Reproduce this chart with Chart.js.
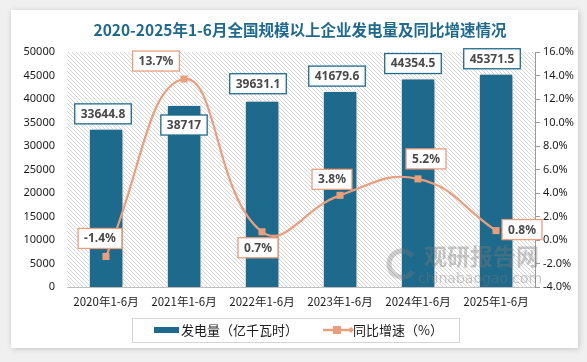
<!DOCTYPE html>
<html>
<head>
<meta charset="utf-8">
<script src="https://cdn.jsdelivr.net/npm/chart.js@4.4.1/dist/chart.umd.min.js"></script>
<style>
html,body{margin:0;padding:0;background:#f0f0f0;}
#wrap{width:587px;height:362px;position:relative;}
</style>
</head>
<body>
<div id="wrap"><canvas id="c" width="587" height="362"></canvas></div>
<script>
const categories = ["2020年1-6月","2021年1-6月","2022年1-6月","2023年1-6月","2024年1-6月","2025年1-6月"];
const generation = [33644.8, 38717, 39631.1, 41679.6, 44354.5, 45371.5];
const growth = [-1.4, 13.7, 0.7, 3.8, 5.2, 0.8];
const leftTicks = [0,5000,10000,15000,20000,25000,30000,35000,40000,45000,50000];
const rightTicks = [-4,-2,0,2,4,6,8,10,12,14,16];
const titleText = "2020-2025年1-6月全国规模以上企业发电量及同比增速情况";
const barLabel = "发电量（亿千瓦时）";
const lineLabel = "同比增速（%）";

const BAR_COLOR = "#1d6a8c";
const LINE_COLOR = "#e99e7d";
const LABEL_COLOR = "#4a4a4a";

// label placement offsets (pixels, box centre relative to mark)
const barLabelOffset = [[-3,-15],[0,20],[-4,-17],[-3,-15],[-5,-15],[-4,-15]];
const lineLabelOffset = [[-6,-18],[-28,-18],[-4,16],[-8,-16],[8,-20],[26,-1]];

const bgPlugin = {
  id: 'bg',
  beforeDraw(chart) {
    const ctx = chart.ctx;
    ctx.save();
    ctx.fillStyle = '#f0f0f0';
    ctx.fillRect(0,0,chart.width,chart.height);
    ctx.shadowColor = 'rgba(0,0,0,0.18)';
    ctx.shadowBlur = 6;
    ctx.shadowOffsetX = 1;
    ctx.shadowOffsetY = 1;
    ctx.fillStyle = '#ffffff';
    ctx.fillRect(11,10,567,338);
    ctx.restore();
    // hatch pattern in plot area
    const a = chart.chartArea;
    ctx.save();
    ctx.beginPath();
    ctx.rect(a.left, a.top, a.right-a.left, a.bottom-a.top);
    ctx.clip();
    ctx.strokeStyle = '#d6d6d6';
    ctx.lineWidth = 1;
    const h = a.bottom - a.top;
    for (let x = a.left - h; x < a.right + 10; x += 4) {
      ctx.beginPath();
      ctx.moveTo(x, a.top);
      ctx.lineTo(x + h, a.bottom);
      ctx.stroke();
    }
    ctx.restore();
    // title
    ctx.save();
    ctx.fillStyle = '#1f6a8c';
    ctx.font = 'bold 15.5px "Noto Sans CJK SC"';
    ctx.textAlign = 'center';
    ctx.textBaseline = 'middle';
    ctx.fillText(titleText, 300, 30);
    ctx.restore();
  },
  beforeDatasetDraw(chart, args) {
    if (args.index === 0) {
      const ctx = chart.ctx;
      ctx.save();
      ctx.shadowColor = 'rgba(0,0,0,0.35)';
      ctx.shadowBlur = 4;
      ctx.shadowOffsetX = 2;
      ctx.shadowOffsetY = 1;
    }
  },
  afterDatasetDraw(chart, args) {
    if (args.index === 0) {
      const ctx = chart.ctx;
      ctx.restore();
      // watermark over bars
      ctx.save();
      ctx.fillStyle = 'rgba(120,120,120,0.4)';
      ctx.font = 'bold 23px "Noto Sans CJK SC"';
      ctx.textBaseline = 'middle';
      ctx.fillText('观研报告网', 424, 256);
      ctx.font = '14px "DejaVu Sans"';
      ctx.fillText('chinabaogao.com', 418, 279);
      ctx.beginPath();
      ctx.lineWidth = 5;
      ctx.strokeStyle = 'rgba(120,120,120,0.35)';
      ctx.arc(402, 264, 13, 0.6, Math.PI*1.8);
      ctx.stroke();
      ctx.restore();
    }
  }
};

function drawBox(ctx, text, cx, cy, border) {
  ctx.font = 'bold 12px "Noto Sans"';
  const w = ctx.measureText(text).width + 12;
  const hgt = 20;
  ctx.fillStyle = '#ffffff';
  ctx.fillRect(cx - w/2, cy - hgt/2, w, hgt);
  ctx.strokeStyle = border;
  ctx.lineWidth = 1.3;
  ctx.strokeRect(cx - w/2, cy - hgt/2, w, hgt);
  ctx.fillStyle = LABEL_COLOR;
  ctx.textAlign = 'center';
  ctx.textBaseline = 'middle';
  ctx.fillText(text, cx, cy + 0.5);
}

const labelPlugin = {
  id: 'labels',
  afterDatasetsDraw(chart) {
    const ctx = chart.ctx;
    ctx.save();
    const barMeta = chart.getDatasetMeta(0);
    barMeta.data.forEach((el, i) => {
      const o = barLabelOffset[i];
      drawBox(ctx, String(generation[i]), el.x + o[0], el.y + o[1], BAR_COLOR);
    });
    const lineMeta = chart.getDatasetMeta(1);
    lineMeta.data.forEach((el, i) => {
      const o = lineLabelOffset[i];
      drawBox(ctx, growth[i].toFixed(1) + '%', el.x + o[0], el.y + o[1], LINE_COLOR);
    });
    ctx.restore();
    // legend
    ctx.save();
    ctx.strokeStyle = '#d4d4d4';
    ctx.lineWidth = 1;
    ctx.strokeRect(132.5, 318.5, 327, 24);
    ctx.fillStyle = BAR_COLOR;
    ctx.fillRect(154, 327, 25, 6);
    ctx.font = '13px "Noto Sans CJK SC"';
    ctx.fillStyle = '#1a1a1a';
    ctx.textBaseline = 'middle';
    ctx.textAlign = 'left';
    ctx.fillText(chart.data.datasets[0].label, 181, 330);
    ctx.strokeStyle = LINE_COLOR;
    ctx.lineWidth = 2.5;
    ctx.beginPath(); ctx.moveTo(323, 330); ctx.lineTo(351, 330); ctx.stroke();
    ctx.fillStyle = LINE_COLOR;
    ctx.fillRect(333, 326, 8, 8);
    ctx.beginPath(); ctx.moveTo(351,327); ctx.lineTo(354,330); ctx.lineTo(351,333); ctx.lineTo(348,330); ctx.closePath(); ctx.fill();
    ctx.fillStyle = '#1a1a1a';
    ctx.fillText(chart.data.datasets[1].label, 353, 330);
    ctx.restore();
  }
};

new Chart(document.getElementById('c'), {
  data: {
    labels: categories,
    datasets: [
      {
        type: 'bar',
        label: barLabel,
        data: generation,
        yAxisID: 'y',
        backgroundColor: BAR_COLOR,
        borderColor: '#ffffff',
        borderWidth: 1,
        barPercentage: 0.5,
        categoryPercentage: 0.88,
        order: 2
      },
      {
        type: 'line',
        label: lineLabel,
        data: growth,
        yAxisID: 'y1',
        borderColor: LINE_COLOR,
        backgroundColor: LINE_COLOR,
        borderWidth: 2.2,
        tension: 0.45,
        pointStyle: 'rect',
        pointRadius: 5,
        pointBorderWidth: 0,
        pointBackgroundColor: LINE_COLOR,
        order: 1
      }
    ]
  },
  options: {
    responsive: false,
    animation: false,
    devicePixelRatio: 1,
    layout: { padding: { top: 52, left: 0, right: 0, bottom: 0 } },
    plugins: { legend: { display: false }, tooltip: { enabled: false }, title: { display: false } },
    scales: {
      x: {
        grid: { display: false, drawTicks: false },
        border: { display: true, color: '#bfbfbf', width: 1 },
        ticks: { color: '#1a1a1a', font: { family: '"Noto Sans CJK SC"', size: 11.5 }, padding: 8, maxRotation: 0 },
        afterFit(s) { s.height = 75; }
      },
      y: {
        position: 'left',
        min: 0, max: 50000,
        afterBuildTicks(s) { s.ticks = leftTicks.map(v => ({ value: v })); },
        grid: { display: false, drawTicks: false },
        border: { display: false },
        ticks: { color: '#1a1a1a', font: { family: '"Noto Sans"', size: 11 }, padding: 12, callback: v => String(v) },
        afterFit(s) { s.width = 67; }
      },
      y1: {
        position: 'right',
        min: -4, max: 16,
        afterBuildTicks(s) { s.ticks = rightTicks.map(v => ({ value: v })); },
        grid: { drawOnChartArea: false, drawTicks: true, tickLength: 5, color: '#9a9a9a' },
        border: { display: true, color: '#9a9a9a', width: 1 },
        ticks: { color: '#1a1a1a', font: { family: '"Noto Sans"', size: 11 }, padding: 3, callback: v => Number(v).toFixed(1) + '%' },
        afterFit(s) { s.width = 52; }
      }
    }
  },
  plugins: [bgPlugin, labelPlugin]
});
</script>
</body>
</html>
